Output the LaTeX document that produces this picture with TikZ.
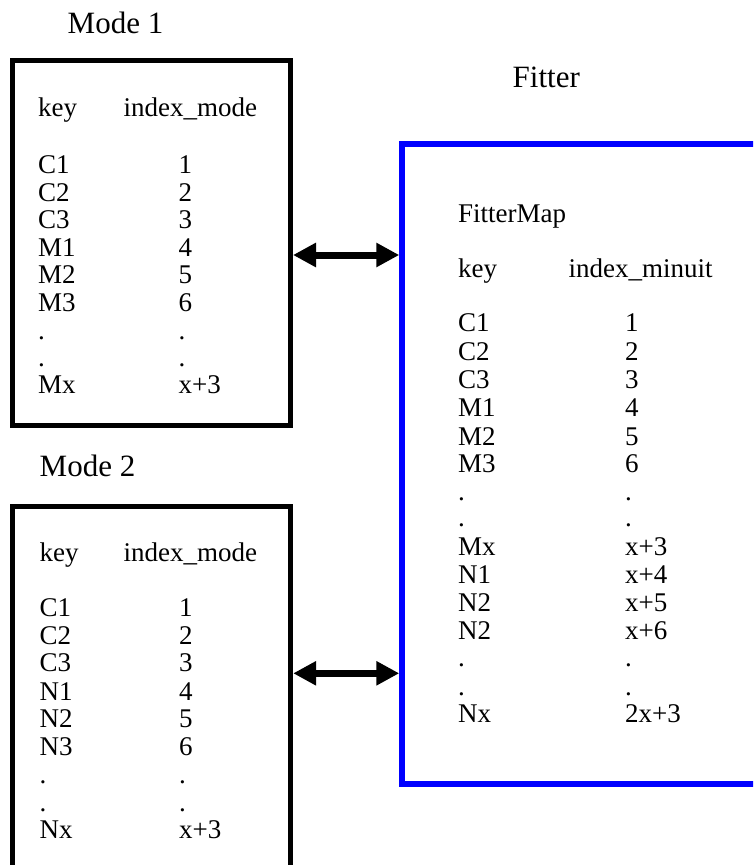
\documentclass[tikz,border=0pt]{standalone}
\usepackage{fontspec}
\setmainfont{Liberation Serif}
\usetikzlibrary{arrows.meta}
\definecolor{fitblue}{RGB}{0,0,255}
\begin{document}
\begin{tikzpicture}[x=1pt,y=-1pt,
  txt/.style={anchor=base west, inner sep=0pt, font=\fontsize{27}{30}\selectfont},
  ttl/.style={anchor=base west, inner sep=0pt, font=\fontsize{31}{34}\selectfont},
  blackbox/.style={rectangle, draw=black, line width=5pt, inner sep=0pt},
  bluebox/.style={rectangle, draw=fitblue, line width=5.5pt, inner sep=0pt},
  biarrow/.style={line width=7pt,
    {Triangle[length=23pt,width=23pt]}-{Triangle[length=23pt,width=23pt]}}
]
\useasboundingbox (0,0) rectangle (753,865);
\clip (0,0) rectangle (753,865);

% frames
\node[blackbox, minimum width=278pt, minimum height=365pt] (mode1) at (151.5,243) {};
\node[blackbox, minimum width=278.2pt, minimum height=393.5pt] (mode2) at (151.6,703.25) {};
\node[bluebox, minimum width=398pt, minimum height=640pt] (fitter) at (601,464) {};

% titles
\node[ttl] (t1) at (67.5,33.3) {Mode 1};
\node[ttl] (t2) at (39.5,476.7) {Mode 2};
\node[ttl] (tf) at (512.5,87.3) {Fitter};

% Mode 1 table
\node[txt] (m1kh) at (38,116) {key};
\node[txt] (m1vh) at (123.5,116) {index\_mode};
\foreach \k/\v/\y [count=\i] in {C1/1/173.3, C2/2/201, C3/3/228.3, M1/4/256.7,
    M2/5/283.3, M3/6/311.7, ././339.5, ././366.5, Mx/x+3/393.3} {
  \node[txt] (m1k\i) at (38,\y) {\k};
  \node[txt] (m1v\i) at (178.5,\y) {\v};
}

% Mode 2 table
\node[txt] (m2kh) at (39.5,561.7) {key};
\node[txt] (m2vh) at (123.5,561.7) {index\_mode};
\foreach \k/\v/\y [count=\i] in {C1/1/616.7, C2/2/644.3, C3/3/671.7, N1/4/700,
    N2/5/727.7, N3/6/755, ././783, ././811.5, Nx/x+3/838.5} {
  \node[txt] (m2k\i) at (39.5,\y) {\k};
  \node[txt] (m2v\i) at (179,\y) {\v};
}

% Fitter map table
\node[txt] (fmap) at (458,222) {FitterMap};
\node[txt] (fkh) at (458,277) {key};
\node[txt] (fvh) at (568.5,277) {index\_minuit};
\foreach \k/\v/\y [count=\i] in {C1/1/331.7, C2/2/360, C3/3/388.3, M1/4/416.7,
    M2/5/445, M3/6/472.7, ././500, ././526.5, Mx/x+3/555, N1/x+4/583.3,
    N2/x+5/611, N2/x+6/639, ././666.5, ././695, Nx/2x+3/722.3} {
  \node[txt] (fk\i) at (458,\y) {\k};
  \node[txt] (fv\i) at (625,\y) {\v};
}

% links between the mode maps and the fitter map
\coordinate (a1) at (0,255);
\coordinate (a2) at (0,673.3);
\draw[biarrow] (mode1.east |- a1) -- (fitter.west |- a1);
\draw[biarrow] (mode2.east |- a2) -- (fitter.west |- a2);
\end{tikzpicture}
\end{document}
